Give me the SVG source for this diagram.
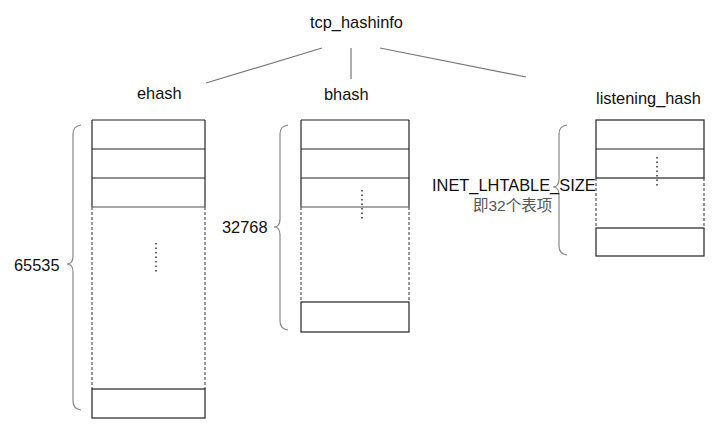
<svg xmlns="http://www.w3.org/2000/svg" width="723" height="440" viewBox="0 0 723 440">
<style>
text{font-family:"Liberation Sans",Arial,"Noto Sans CJK SC",sans-serif;font-size:16.4px;fill:#111}
.cell{fill:none;stroke:#222;stroke-width:1.2}
.sep{stroke:#888;stroke-width:1.5}
.dash{fill:none;stroke:#333;stroke-width:1;stroke-dasharray:3,2}
.dots{stroke:#333;stroke-width:1.5;stroke-dasharray:1.5,3}
.brace{fill:none;stroke:#888;stroke-width:1.2}
.conn{stroke:#777;stroke-width:1.2;fill:none}
</style>
<g id="connectors">
<line class="conn" x1="322" y1="48" x2="206" y2="83"/>
<line class="conn" x1="351" y1="48" x2="351" y2="79"/>
<line class="conn" x1="380" y1="48" x2="526" y2="77"/>
</g>
<g id="tcp_hashinfo"><text x="310" y="28">tcp_hashinfo</text></g>
<g id="ehash">
<text x="137" y="99">ehash</text>
<line class="cell" x1="92" y1="120" x2="205" y2="120"/>
<line class="cell" x1="92" y1="120" x2="92" y2="207"/>
<line class="cell" x1="205" y1="120" x2="205" y2="207"/>
<line class="cell" x1="92" y1="149" x2="205" y2="149"/>
<line class="cell" x1="92" y1="178" x2="205" y2="178"/>
<line class="sep" x1="92" y1="207" x2="205" y2="207"/>
<line class="dash" x1="92" y1="207" x2="92" y2="389"/>
<line class="dash" x1="205" y1="207" x2="205" y2="389"/>
<rect class="cell" x="92" y="389" width="113" height="29"/>
<line class="dots" x1="156" y1="243" x2="156" y2="274"/>
<path class="brace" d="M81,125 Q73,126 73,134 L73,256 Q73,264 67,264 Q73,264 73,272 L73,401 Q73,409 81,410"/>
<text x="14" y="271">65535</text>
</g>
<g id="bhash">
<text x="324" y="100">bhash</text>
<line class="cell" x1="301" y1="120" x2="409" y2="120"/>
<line class="cell" x1="301" y1="120" x2="301" y2="207"/>
<line class="cell" x1="409" y1="120" x2="409" y2="207"/>
<line class="cell" x1="301" y1="149" x2="409" y2="149"/>
<line class="cell" x1="301" y1="178" x2="409" y2="178"/>
<line class="sep" x1="301" y1="207" x2="409" y2="207"/>
<line class="dash" x1="301" y1="207" x2="301" y2="302"/>
<line class="dash" x1="409" y1="207" x2="409" y2="302"/>
<rect class="cell" x="301" y="302" width="108" height="30"/>
<line class="dots" x1="362" y1="190" x2="362" y2="221"/>
<path class="brace" d="M288,125 Q280,126 280,134 L280,219 Q280,227 274,227 Q280,227 280,235 L280,321 Q280,329 288,330"/>
<text x="222" y="233">32768</text>
</g>
<g id="listening_hash">
<text x="596" y="104">listening_hash</text>
<rect class="cell" x="596" y="120" width="108" height="58"/>
<line class="cell" x1="596" y1="149" x2="704" y2="149"/>
<line class="dash" x1="596" y1="178" x2="596" y2="228"/>
<line class="dash" x1="704" y1="178" x2="704" y2="228"/>
<rect class="cell" x="596" y="228" width="108" height="28"/>
<line class="dots" x1="657" y1="157" x2="657" y2="188"/>
<path class="brace" d="M567,125 Q559,126 559,134 L559,179 Q559,187 553,187 Q559,187 559,195 L559,246 Q559,254 567,255"/>
<text x="432" y="191">INET_LHTABLE_SIZE</text>
<text x="473" y="211" style="fill:#555;font-size:15.5px">即32个表项</text>
</g>
</svg>
